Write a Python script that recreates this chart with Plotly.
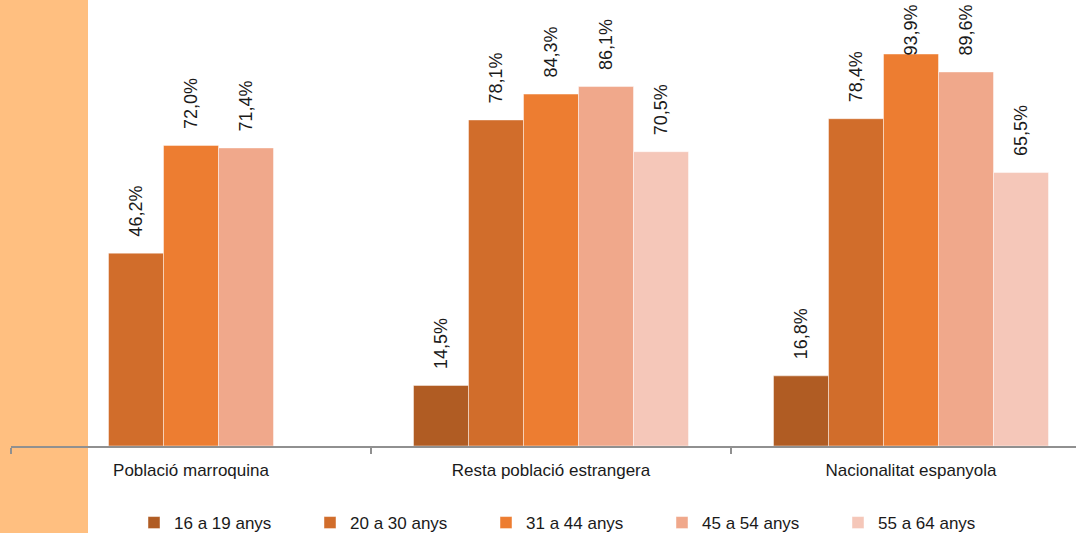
import plotly.graph_objects as go

categories = ["Població marroquina", "Resta població estrangera", "Nacionalitat espanyola"]
series_names = ["16 a 19 anys", "20 a 30 anys", "31 a 44 anys", "45 a 54 anys", "55 a 64 anys"]
v_16_19 = [None, 14.5, 16.8]
v_20_30 = [46.2, 78.1, 78.4]
v_31_44 = [72.0, 84.3, 93.9]
v_45_54 = [71.4, 86.1, 89.6]
v_55_64 = [None, 70.5, 65.5]
series_values = [v_16_19, v_20_30, v_31_44, v_45_54, v_55_64]
colors = ["#B05C23", "#D16D2B", "#ED7D31", "#F0A88B", "#F5C7B9"]

W, H = 1076, 533
ml, mt, mb = 11, 0, 87
plot_w = W - ml
px_per_cat = 360
x_hi = -0.5 + plot_w / px_per_cat
plot_h = H - mt - mb
px_per_pct = (446 - 54) / 93.9
y_hi = plot_h / px_per_pct

fig = go.Figure()
for name, vals, col in zip(series_names, series_values, colors):
    fig.add_trace(go.Bar(
        x=categories, y=vals, name=name,
        marker=dict(color=col, line=dict(color="rgba(255,255,255,0.45)", width=1)),
    ))

bar_w = 55
cap = 89.6
for i, vals in enumerate(series_values):
    for c, v in zip(categories, vals):
        if v is None:
            continue
        fig.add_annotation(
            x=c, y=min(v, cap), xref="x", yref="y",
            xshift=(i - 2) * bar_w, yshift=14,
            text=f"{v:.1f}%".replace(".", ","), textangle=-90,
            showarrow=False, xanchor="center", yanchor="bottom",
            font=dict(family="Liberation Sans, Arial", size=18, color="#1a1a1a"),
        )

# left decorative band
fig.add_shape(type="rect", xref="paper", yref="paper",
              x0=-ml / plot_w, x1=(88 - ml) / plot_w,
              y0=-mb / plot_h, y1=1, fillcolor="#FFBF80", line=dict(width=0), layer="below")

fig.update_layout(
    width=W, height=H,
    margin=dict(l=ml, r=0, t=mt, b=mb, pad=0, autoexpand=False),
    plot_bgcolor="white", paper_bgcolor="white",
    barmode="group", bargap=85 / 360, bargroupgap=0,
    font=dict(family="Liberation Sans, Arial", color="#1a1a1a"),
    xaxis=dict(type="category", range=[-0.5, x_hi], showline=True, linecolor="#909090", linewidth=1.5,
               ticks="outside", ticklen=6, tickcolor="#909090", tickwidth=1.5, tickson="boundaries",
               tickfont=dict(size=17, color="#1a1a1a"), ticklabelstandoff=8, showgrid=False),
    yaxis=dict(range=[0, y_hi], visible=False, showgrid=False),
    legend=dict(orientation="h", x=(134 - ml) / plot_w, xanchor="left",
                y=(446 - 523) / plot_h, yanchor="middle",
                entrywidth=131, entrywidthmode="pixels", itemwidth=30,
                font=dict(size=17, color="#1a1a1a"), bgcolor="rgba(0,0,0,0)"),
)

fig.write_html("out.html", config={"displayModeBar": False},
               post_script="document.body.style.margin='0';document.body.style.padding='0';")
